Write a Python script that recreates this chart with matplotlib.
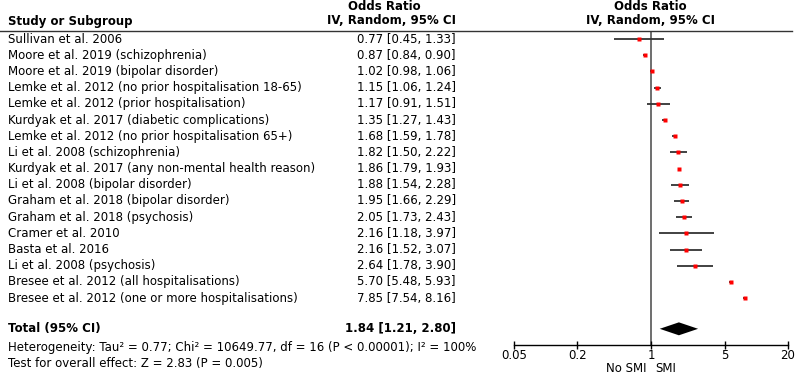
import numpy as np
import matplotlib.pyplot as plt
from matplotlib.transforms import blended_transform_factory

studies = ["Sullivan et al. 2006",
           "Moore et al. 2019 (schizophrenia)",
           "Moore et al. 2019 (bipolar disorder)",
           "Lemke et al. 2012 (no prior hospitalisation 18-65)",
           "Lemke et al. 2012 (prior hospitalisation)",
           "Kurdyak et al. 2017 (diabetic complications)",
           "Lemke et al. 2012 (no prior hospitalisation 65+)",
           "Li et al. 2008 (schizophrenia)",
           "Kurdyak et al. 2017 (any non-mental health reason)",
           "Li et al. 2008 (bipolar disorder)",
           "Graham et al. 2018 (bipolar disorder)",
           "Graham et al. 2018 (psychosis)",
           "Cramer et al. 2010",
           "Basta et al. 2016",
           "Li et al. 2008 (psychosis)",
           "Bresee et al. 2012 (all hospitalisations)",
           "Bresee et al. 2012 (one or more hospitalisations)"]
odds = [0.77, 0.87, 1.02, 1.15, 1.17, 1.35, 1.68, 1.82, 1.86, 1.88, 1.95, 2.05, 2.16, 2.16, 2.64, 5.70, 7.85]
ci_lo = [0.45, 0.84, 0.98, 1.06, 0.91, 1.27, 1.59, 1.50, 1.79, 1.54, 1.66, 1.73, 1.18, 1.52, 1.78, 5.48, 7.54]
ci_hi = [1.33, 0.90, 1.06, 1.24, 1.51, 1.43, 1.78, 2.22, 1.93, 2.28, 2.29, 2.43, 3.97, 3.07, 3.90, 5.93, 8.16]

total_or, total_lo, total_hi = 1.84, 1.21, 2.80
ticks = [0.05, 0.2, 1, 5, 20]
tick_labels = ["0.05", "0.2", "1", "5", "20"]

fs = 8.5
fig = plt.figure(figsize=(8, 3.75), dpi=100)
ax = fig.add_axes([0.6425, 0.08, 0.3425, 0.8373])
ax.set_xscale("log")
ax.set_xlim(0.05, 20)
n = len(studies)
total_row = n + 0.9
ax.set_ylim(n + 1.9, -0.5)

rows = np.arange(n)
ax.hlines(rows, ci_lo, ci_hi, color="#333333", lw=1.3, zorder=2)
ax.plot(odds, rows, "s", color="red", ms=2.6, mec="none", zorder=3)

# pooled estimate diamond
ax.fill([total_lo, total_or, total_hi, total_or],
        [total_row, total_row - 0.4, total_row, total_row + 0.4],
        color="black", lw=0, zorder=3)

ax.axvline(1, color="#555555", lw=1.2, zorder=1)

for s in ["top", "right", "left"]:
    ax.spines[s].set_visible(False)
ax.spines["bottom"].set_linewidth(1.0)
ax.set_yticks([])
ax.set_xticks(ticks)
ax.set_xticklabels(tick_labels, fontsize=fs)
ax.minorticks_off()
ax.tick_params(axis="x", direction="inout", length=6, width=1.0, pad=0)

# text columns
tr = blended_transform_factory(fig.transFigure, ax.transData)
for i in range(n):
    fig.text(0.01, 0, studies[i], transform=tr, fontsize=fs, va="center").set_y(i)
    fig.text(0.57, 0, "%.2f [%.2f, %.2f]" % (odds[i], ci_lo[i], ci_hi[i]),
             transform=tr, fontsize=fs, va="center", ha="right").set_y(i)

fig.text(0.01, 0, "Total (95% CI)", transform=tr, fontsize=fs, va="center",
         fontweight="bold").set_y(total_row)
fig.text(0.57, 0, "%.2f [%.2f, %.2f]" % (total_or, total_lo, total_hi), transform=tr,
         fontsize=fs, va="center", ha="right", fontweight="bold").set_y(total_row)

fig.text(0.01, 1 - 347 / 375,
         "Heterogeneity: Tau² = 0.77; Chi² = 10649.77, df = 16 (P < 0.00001); I² = 100%",
         fontsize=fs, va="center")
fig.text(0.01, 1 - 363 / 375, "Test for overall effect: Z = 2.83 (P = 0.005)",
         fontsize=fs, va="center")

# headers
fig.text(0.01, 1 - 21 / 375, "Study or Subgroup", fontsize=fs, fontweight="bold", va="center")
fig.text(0.481, 1 - 6 / 375, "Odds Ratio", fontsize=fs, fontweight="bold", va="center", ha="center")
fig.text(0.57, 1 - 21 / 375, "IV, Random, 95% CI", fontsize=fs, fontweight="bold", va="center", ha="right")
fig.text(0.8125, 1 - 6 / 375, "Odds Ratio", fontsize=fs, fontweight="bold", va="center", ha="center")
fig.text(0.8125, 1 - 21 / 375, "IV, Random, 95% CI", fontsize=fs, fontweight="bold", va="center", ha="center")
fig.add_artist(plt.Line2D([0, 0.99], [1 - 31 / 375] * 2, color="#333333", lw=1.0))

fig.text(0.808, 1 - 369 / 375, "No SMI", fontsize=fs, va="center", ha="right")
fig.text(0.819, 1 - 369 / 375, "SMI", fontsize=fs, va="center", ha="left")

fig.savefig("out.png", dpi=100)
